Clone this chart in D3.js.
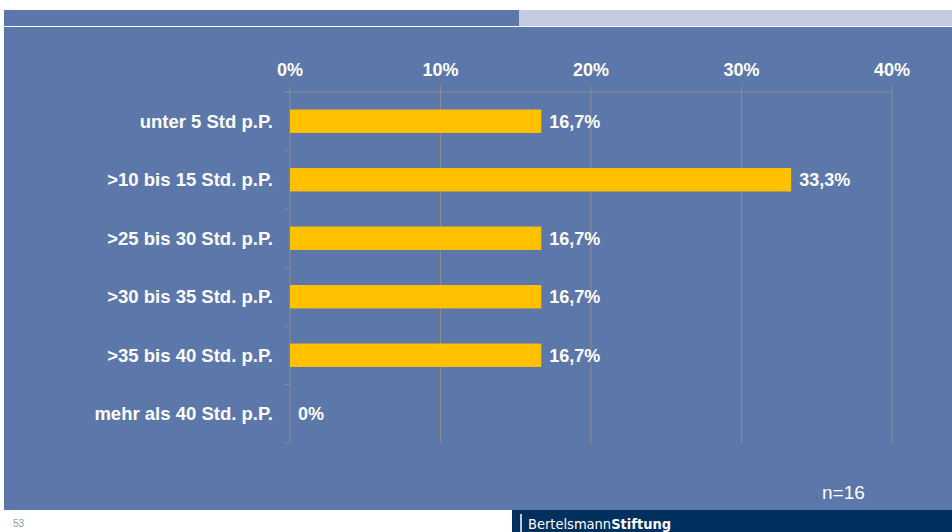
<!DOCTYPE html>
<html>
<head>
<meta charset="utf-8">
<script src="https://cdn.jsdelivr.net/npm/d3@7"></script>
<style>
  body { margin: 0; background: #fff; }
  svg { display: block; font-family: "Liberation Sans", Arial, sans-serif; }
</style>
</head>
<body>
<svg id="chart" width="952" height="532"></svg>
<script>
// data
let categories = [
  "unter 5 Std p.P.",
  ">10 bis 15 Std. p.P.",
  ">25 bis 30 Std. p.P.",
  ">30 bis 35 Std. p.P.",
  ">35 bis 40 Std. p.P.",
  "mehr als 40 Std. p.P."
];
let values = [16.7, 33.3, 16.7, 16.7, 16.7, 0];
let valueLabels = ["16,7%", "33,3%", "16,7%", "16,7%", "16,7%", "0%"];
let ticks = [0, 10, 20, 30, 40];

let svg = d3.select("#chart");

// slide frame
svg.append("rect").attr("x", 4).attr("y", 10).attr("width", 515).attr("height", 16).attr("fill", "#5C77A9");
svg.append("rect").attr("x", 519).attr("y", 10).attr("width", 433).attr("height", 16).attr("fill", "#C3CCDF");
svg.append("rect").attr("x", 4).attr("y", 27).attr("width", 948).attr("height", 483).attr("fill", "#5C77A9");

// footer
svg.append("rect").attr("x", 512).attr("y", 510).attr("width", 440).attr("height", 22).attr("fill", "#00305E");
svg.append("line").attr("x1", 521).attr("x2", 521).attr("y1", 514).attr("y2", 532)
  .attr("stroke", "#fff").attr("stroke-width", 1.5);
svg.append("text").attr("x", 528).attr("y", 529).attr("fill", "#fff")
  .attr("font-size", 14.5).attr("font-family", "'DejaVu Sans Condensed', 'Liberation Sans Narrow', sans-serif")
  .html('Bertelsmann<tspan font-weight="bold">Stiftung</tspan>');
svg.append("text").attr("x", 13).attr("y", 527).attr("fill", "#8A9CC2")
  .attr("font-size", 10).text("53");

// scales
let x = d3.scaleLinear().domain([0, 40]).range([290, 892]);
let y = d3.scaleBand().domain(categories).range([92, 443]).paddingInner(0.6).paddingOuter(0.3);
let grid = "#8C8C8C";

// grid lines
svg.selectAll(".grid").data(ticks).enter().append("line")
  .attr("x1", (d) => x(d)).attr("x2", (d) => x(d))
  .attr("y1", 86).attr("y2", 443)
  .attr("stroke", grid).attr("stroke-width", 1);

// top line
svg.append("line").attr("x1", 285).attr("x2", x(40)).attr("y1", 92).attr("y2", 92)
  .attr("stroke", grid);

// category ticks
let step = (443 - 92) / categories.length;
svg.selectAll(".ctick").data(d3.range(categories.length + 1)).enter().append("line")
  .attr("x1", 285).attr("x2", 290)
  .attr("y1", (d) => 92 + d * step).attr("y2", (d) => 92 + d * step)
  .attr("stroke", grid);

// tick labels
svg.selectAll(".tlabel").data(ticks).enter().append("text")
  .attr("x", (d) => x(d)).attr("y", 76)
  .attr("text-anchor", "middle").attr("fill", "#fff")
  .attr("font-size", 18).attr("font-weight", "bold")
  .text((d) => d + "%");

// bars
svg.selectAll(".bar").data(values).enter().append("rect")
  .attr("x", x(0))
  .attr("y", (d, i) => y(categories[i]))
  .attr("width", (d) => x(d) - x(0))
  .attr("height", y.bandwidth())
  .attr("fill", "#FFC000");

// category labels
svg.selectAll(".clabel").data(categories).enter().append("text")
  .attr("x", 273)
  .attr("y", (d) => y(d) + y.bandwidth() / 2 + 6.5)
  .attr("text-anchor", "end").attr("fill", "#fff")
  .attr("font-size", 18.5).attr("font-weight", "bold")
  .text((d) => d);

// value labels
svg.selectAll(".vlabel").data(values).enter().append("text")
  .attr("x", (d) => x(d) + 8)
  .attr("y", (d, i) => y(categories[i]) + y.bandwidth() / 2 + 6.5)
  .attr("fill", "#fff")
  .attr("font-size", 18).attr("font-weight", "bold")
  .text((d, i) => valueLabels[i]);

// n
svg.append("text").attr("x", 822).attr("y", 499).attr("fill", "#fff")
  .attr("font-size", 19).text("n=16");
</script>
</body>
</html>
